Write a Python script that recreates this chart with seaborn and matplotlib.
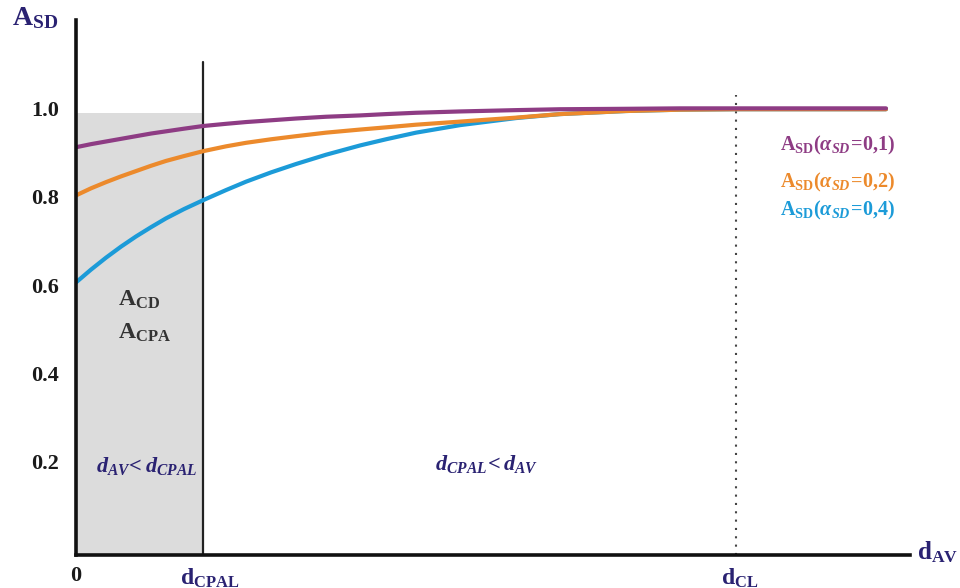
import matplotlib
matplotlib.use("Agg")
import matplotlib.pyplot as plt
import seaborn as sns
import pandas as pd

# ---- data ----
x_vals = [0, 0.15, 0.3, 0.45, 0.6, 0.75, 0.9, 1.08, 1.27, 1.5, 1.7, 1.95, 2.2, 2.5, 2.84,
          3.1, 3.4, 3.84, 4.4, 4.84, 5.5, 6.04, 6.6, 7.3, 8.1]
a_01 = [0.912, 0.919, 0.925, 0.931, 0.937, 0.943, 0.948, 0.954, 0.960, 0.965, 0.969, 0.973, 0.977, 0.981, 0.984,
        0.987, 0.990, 0.993, 0.996, 0.998, 0.999, 1.0, 1.0, 1.0, 1.0]
a_02 = [0.803, 0.819, 0.833, 0.846, 0.858, 0.870, 0.881, 0.892, 0.903, 0.914, 0.922, 0.930, 0.937, 0.945, 0.952,
        0.957, 0.963, 0.970, 0.979, 0.987, 0.994, 0.997, 0.998, 0.998, 0.998]
a_04 = [0.606, 0.635, 0.662, 0.687, 0.710, 0.731, 0.751, 0.772, 0.792, 0.815, 0.834, 0.855, 0.874, 0.895, 0.916,
        0.930, 0.945, 0.962, 0.978, 0.987, 0.994, 0.997, 0.998, 0.998, 0.998]
series_names = ["0,1", "0,2", "0,4"]
series_colors = ["#8E3C84", "#EC8A2C", "#1C9BD8"]
y_ticks = [0.2, 0.4, 0.6, 0.8, 1.0]
y_tick_labels = ["0.2", "0.4", "0.6", "0.8", "1.0"]
d_cpal = 1.27
d_cl = 6.6
shade_top = 0.99

sns.set_style("white")
plt.rcParams["mathtext.fontset"] = "custom"
plt.rcParams["mathtext.rm"] = "Liberation Serif:bold"
plt.rcParams["mathtext.bf"] = "Liberation Serif:bold"
plt.rcParams["mathtext.it"] = "Liberation Serif:bold:italic"
plt.rcParams["font.family"] = ["Liberation Serif", "DejaVu Serif"]

frames = []
for name, vals in zip(series_names, [a_01, a_02, a_04]):
    frames.append(pd.DataFrame({"x": x_vals, "y": vals, "s": name}))
df = pd.concat(frames, ignore_index=True)

fig = plt.figure(figsize=(9.6, 5.88), dpi=100)
W, H = 960, 588
ax = fig.add_axes([76 / W, 33 / H, (910 - 76) / W, 535 / H])

y_bottom = -0.011
# shaded region
ax.fill_between([0, d_cpal], y_bottom, shade_top, color="#DCDCDC", zorder=0, linewidth=0)
# vertical lines
ax.plot([d_cpal, d_cpal], [y_bottom, 1.104], color="#222222", lw=1.6, zorder=3)
ax.plot([d_cl, d_cl], [y_bottom, 1.03], color="#444444", lw=1.5, ls=(0, (1, 3)), zorder=3)

# curves (draw blue first so purple on top)
order = ["0,4", "0,2", "0,1"]
pal = dict(zip(series_names, series_colors))
for name in order:
    sns.lineplot(data=df[df["s"] == name], x="x", y="y", color=pal[name], lw=3.0, ax=ax,
                 legend=False, zorder=4)

ax.set_xlim(0, 8.34)
ax.set_ylim(y_bottom, 1.2)
for s in ["top", "right"]:
    ax.spines[s].set_visible(False)
for s in ["left", "bottom"]:
    ax.spines[s].set_linewidth(2.6)
    ax.spines[s].set_color("#111111")
    ax.spines[s].set_zorder(5)
ax.set_xlabel("")
ax.set_ylabel("")
ax.set_yticks(y_ticks)
ax.set_yticklabels(y_tick_labels, fontsize=16, fontweight="bold", color="#1a1a1a")
ax.tick_params(axis="y", length=0, pad=12)
ax.set_xticks([])

navy = "#2A2272"
# axis title labels
fig.text(35 / W, 1 - 18 / H, r"$\mathrm{A}_{\mathrm{SD}}$", fontsize=20, color=navy, ha="center", va="center")
fig.text(917 / W, 1 - 552 / H, r"$\mathrm{d}_{\mathrm{AV}}$", fontsize=18, color=navy, ha="left", va="center")
fig.text(76 / W, 1 - 576 / H, "0", fontsize=16, fontweight="bold", color="#1a1a1a", ha="center", va="center")
fig.text(210 / W, 1 - 578 / H, r"$\mathrm{d}_{\mathrm{CPAL}}$", fontsize=17, color=navy, ha="center", va="center")
fig.text(740 / W, 1 - 578 / H, r"$\mathrm{d}_{\mathrm{CL}}$", fontsize=17, color=navy, ha="center", va="center")

# legend-like labels
leg_y = [145, 182, 210]
for name, col, py in zip(series_names, series_colors, leg_y):
    a, b = name.split(",")
    fig.text(780 / W, 1 - py / H,
             r"$\mathrm{A}_{\mathrm{SD}}\mathrm{(}\alpha_{SD}\!=\!\mathit{" + a + "{,}" + b + r"}\mathrm{)}$",
             fontsize=14.5, color=col, ha="left", va="center")

# region annotations
fig.text(118 / W, 1 - 300 / H, r"$\mathrm{A}_{\mathrm{CD}}$", fontsize=17, color="#333333", ha="left", va="center")
fig.text(118 / W, 1 - 333 / H, r"$\mathrm{A}_{\mathrm{CPA}}$", fontsize=17, color="#333333", ha="left", va="center")
fig.text(147 / W, 1 - 466 / H, r"$d_{AV}\!<d_{CPAL}$", fontsize=16, color=navy, ha="center", va="center")
fig.text(487 / W, 1 - 464 / H, r"$d_{CPAL}\!<d_{AV}$", fontsize=16, color=navy, ha="center", va="center")

fig.savefig("out.png", dpi=100)
